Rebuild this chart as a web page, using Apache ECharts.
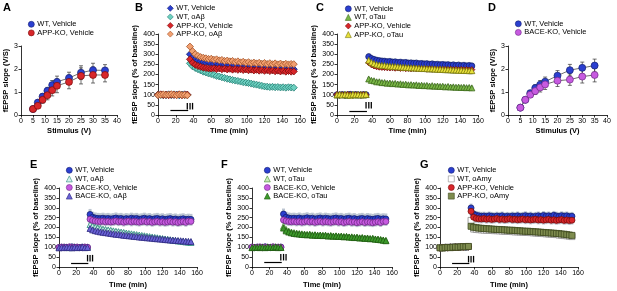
<!DOCTYPE html>
<html><head><meta charset="utf-8">
<script src="https://cdn.jsdelivr.net/npm/echarts@6/dist/echarts.min.js"></script>
<style>html,body{margin:0;padding:0;background:#fff}#c{width:617px;height:291px}</style>
</head><body><div id="c"></div>
<script>
// ---------------- DATA ----------------
// Input/output curves (A, D)
const stimV = [5, 7, 9, 11, 13, 15, 20, 25, 30, 35];
const aWtVeh = [0.26, 0.54, 0.80, 1.05, 1.30, 1.44, 1.61, 1.84, 1.95, 1.94];
const aWtVehErr = [0.04, 0.08, 0.12, 0.15, 0.20, 0.25, 0.25, 0.30, 0.30, 0.25];
const aAppVeh = [0.26, 0.40, 0.66, 0.86, 1.08, 1.27, 1.44, 1.70, 1.74, 1.74];
const aAppVehErr = [0.04, 0.08, 0.15, 0.20, 0.25, 0.30, 0.30, 0.35, 0.35, 0.30];
const dWtVeh = [0.32, 0.66, 0.95, 1.17, 1.32, 1.45, 1.71, 1.95, 2.05, 2.15];
const dWtVehErr = [0.05, 0.08, 0.12, 0.15, 0.18, 0.20, 0.22, 0.25, 0.25, 0.28];
const dBaceVeh = [0.32, 0.66, 0.88, 1.04, 1.20, 1.33, 1.49, 1.54, 1.67, 1.74];
const dBaceVehErr = [0.05, 0.08, 0.12, 0.15, 0.20, 0.22, 0.25, 0.25, 0.28, 0.30];

// LTP time courses (B, C, E, F, G)
const tBase = [0, 3, 6, 9, 12, 15, 18, 21, 24, 27, 30, 33];
const tPost = [36, 39, 42, 45, 48, 51, 54, 57, 60, 63, 66, 69, 72, 75, 78, 81, 84, 87, 90, 93,
               96, 99, 102, 105, 108, 111, 114, 117, 120, 123, 126, 129, 132, 135, 138, 141, 144, 147, 150, 153];

// B
const bWtVehBase = [99, 101, 100, 98, 102, 100, 99, 101, 98, 100, 102, 99];
const bWtVehPost = [300, 285, 275, 270, 265, 262, 258, 260, 255, 252, 256, 250, 252, 248, 250, 246, 249, 244, 247, 243, 245, 241, 244, 240, 242, 238, 240, 236, 239, 235, 237, 233, 236, 231, 234, 229, 232, 227, 229, 226];
const bWtAbBase = [101, 99, 98, 100, 101, 99, 102, 100, 99, 101, 98, 100];
const bWtAbPost = [255, 240, 232, 226, 220, 214, 210, 205, 202, 198, 193, 190, 186, 183, 179, 176, 173, 170, 168, 165, 162, 160, 158, 155, 152, 150, 147, 144, 141, 140, 138, 139, 137, 138, 136, 137, 135, 137, 136, 135];
const bAppVehBase = [100, 102, 99, 101, 98, 100, 101, 99, 102, 98, 100, 101];
const bAppVehPost = [275, 258, 248, 242, 238, 234, 232, 230, 229, 231, 227, 230, 226, 229, 225, 228, 224, 227, 223, 226, 222, 225, 221, 224, 220, 223, 219, 222, 218, 221, 217, 220, 216, 219, 215, 218, 214, 217, 214, 215];
const bAppAbBase = [98, 100, 102, 99, 101, 103, 100, 98, 101, 99, 100, 97];
const bAppAbPost = [338, 315, 300, 292, 286, 283, 280, 277, 278, 273, 275, 270, 272, 267, 269, 265, 267, 262, 265, 260, 263, 258, 261, 256, 259, 255, 258, 253, 257, 252, 256, 251, 255, 250, 254, 249, 253, 250, 252, 251];

// C
const cWtVehBase = [100, 99, 101, 98, 100, 102, 99, 101, 100, 98, 101, 100];
const cWtVehPost = [288, 279, 274, 270, 268, 266, 265, 263, 264, 261, 262, 259, 260, 258, 259, 256, 257, 255, 256, 253, 254, 252, 253, 250, 252, 249, 250, 248, 249, 247, 248, 245, 247, 244, 246, 243, 245, 242, 244, 242];
const cWtTauBase = [99, 101, 100, 102, 98, 100, 101, 99, 100, 102, 99, 101];
const cWtTauPost = [178, 171, 169, 164, 164, 160, 160, 157, 158, 155, 156, 153, 154, 151, 152, 149, 150, 148, 149, 146, 147, 145, 146, 143, 145, 142, 143, 141, 142, 139, 141, 138, 139, 137, 138, 136, 137, 135, 136, 134];
const cAppVehBase = [101, 98, 100, 99, 102, 100, 98, 101, 99, 100, 101, 99];
const cAppVehPost = [258, 248, 242, 238, 236, 235, 234, 233, 232, 233, 231, 232, 230, 231, 229, 230, 228, 230, 228, 229, 227, 228, 226, 228, 226, 227, 225, 227, 225, 226, 224, 226, 224, 225, 223, 225, 223, 224, 222, 224];
const cAppTauBase = [100, 102, 99, 101, 100, 98, 102, 100, 101, 99, 100, 102];
const cAppTauPost = [270, 260, 254, 250, 247, 245, 244, 242, 241, 240, 239, 238, 237, 236, 235, 234, 233, 233, 232, 231, 230, 230, 229, 228, 228, 227, 226, 226, 225, 224, 224, 223, 222, 222, 221, 221, 220, 220, 219, 219];

// E
const eWtVehBase = [98, 100, 101, 99, 100, 102, 99, 100, 98, 101, 100, 99];
const eWtVehPost = [266, 252, 248, 246, 245, 247, 244, 246, 243, 245, 248, 244, 246, 242, 245, 243, 247, 244, 246, 242, 244, 247, 243, 245, 241, 244, 246, 242, 244, 240, 243, 245, 241, 243, 239, 242, 244, 240, 242, 241];
const eWtAbBase = [100, 99, 101, 100, 98, 100, 102, 99, 101, 100, 99, 101];
const eWtAbPost = [215, 207, 202, 198, 195, 192, 190, 188, 186, 183, 181, 179, 177, 175, 172, 170, 168, 166, 164, 162, 160, 158, 156, 154, 152, 150, 148, 146, 144, 142, 140, 138, 136, 134, 132, 131, 129, 127, 126, 124];
const eBaceVehBase = [99, 101, 98, 100, 102, 99, 100, 101, 99, 98, 101, 100];
const eBaceVehPost = [242, 236, 233, 231, 230, 232, 229, 231, 228, 230, 233, 229, 231, 227, 230, 232, 228, 231, 229, 227, 230, 232, 228, 230, 226, 229, 231, 227, 229, 226, 228, 231, 227, 229, 225, 228, 230, 226, 232, 231];
const eBaceAbBase = [97, 99, 98, 100, 99, 97, 100, 98, 99, 101, 98, 99];
const eBaceAbPost = [195, 188, 184, 181, 178, 176, 174, 172, 170, 168, 166, 165, 163, 161, 160, 158, 157, 155, 154, 152, 151, 150, 148, 147, 146, 144, 143, 142, 141, 139, 138, 137, 136, 135, 134, 133, 132, 131, 130, 129];

// F
const fWtVehBase = [100, 98, 101, 99, 100, 102, 100, 98, 101, 100, 99, 101];
const fWtVehPost = [268, 252, 248, 246, 247, 245, 248, 244, 246, 249, 245, 247, 243, 246, 248, 244, 247, 245, 243, 246, 248, 244, 246, 242, 245, 247, 243, 245, 241, 244, 246, 242, 245, 243, 241, 244, 246, 242, 244, 243];
const fWtTauBase = [99, 101, 100, 98, 101, 100, 102, 99, 100, 101, 98, 100];
const fWtTauPost = [206, 190, 182, 177, 174, 172, 170, 168, 167, 165, 166, 163, 164, 161, 162, 160, 161, 158, 159, 157, 158, 155, 156, 154, 155, 152, 153, 150, 151, 148, 149, 146, 147, 144, 145, 142, 141, 139, 137, 135];
const fBaceVehBase = [101, 99, 100, 102, 98, 101, 99, 100, 102, 99, 101, 100];
const fBaceVehPost = [238, 233, 230, 229, 231, 228, 230, 227, 229, 232, 228, 230, 226, 229, 231, 227, 230, 228, 226, 229, 231, 227, 229, 225, 228, 230, 226, 228, 224, 227, 229, 225, 228, 226, 224, 227, 229, 225, 231, 230];
const fBaceTauBase = [98, 100, 99, 101, 100, 98, 101, 100, 99, 102, 100, 99];
const fBaceTauPost = [197, 183, 177, 173, 170, 168, 167, 165, 164, 163, 164, 161, 162, 160, 161, 159, 160, 157, 158, 156, 157, 155, 156, 153, 154, 152, 151, 149, 150, 147, 148, 145, 146, 143, 144, 141, 140, 138, 136, 133];

// G
const gWtVehBase = [97, 99, 100, 98, 101, 100, 102, 99, 101, 103, 100, 102];
const gWtVehPost = [299, 268, 262, 259, 257, 258, 256, 259, 257, 255, 258, 256, 259, 254, 257, 255, 258, 256, 259, 255, 257, 260, 256, 258, 254, 257, 259, 255, 261, 257, 259, 256, 262, 258, 256, 260, 257, 259, 255, 257];
const gWtAmyBase = [98, 97, 99, 100, 99, 101, 100, 102, 101, 103, 102, 104];
const gWtAmyPost = [236, 192, 190, 189, 188, 187, 186, 186, 185, 184, 184, 183, 182, 181, 181, 180, 179, 178, 178, 177, 176, 175, 175, 174, 173, 172, 171, 170, 169, 168, 167, 166, 165, 164, 162, 161, 159, 158, 156, 154];
const gAppVehBase = [96, 98, 99, 97, 100, 99, 101, 100, 102, 101, 103, 102];
const gAppVehPost = [282, 252, 246, 244, 243, 245, 242, 244, 241, 243, 245, 241, 243, 240, 242, 244, 240, 242, 239, 241, 243, 239, 241, 238, 240, 242, 238, 240, 237, 239, 241, 237, 239, 236, 238, 240, 236, 238, 235, 237];
const gAppAmyBase = [97, 96, 98, 99, 98, 100, 101, 100, 102, 103, 102, 104];
const gAppAmyPost = [206, 201, 199, 197, 196, 195, 194, 193, 192, 191, 190, 190, 189, 188, 187, 186, 186, 185, 184, 183, 182, 181, 181, 180, 179, 178, 177, 176, 175, 174, 173, 172, 171, 170, 169, 167, 166, 164, 162, 160];

// SEM (for light error halos), % of baseline
const semC = [18, 10, 14, 18];
const semE = [28, 10, 22, 10];
const semF = [28, 10, 22, 10];
const semG = [22, 12, 22, 12];

// protocol annotations (min)
const drugOn = 14, drugOff = 34, tetanusAt = 36;

// ---------------- CHART ----------------
const FONT = '"Liberation Sans", Arial, sans-serif';
const S = {
  blue:   {c: '#2b3fd0', b: '#141f70'},
  red:    {c: '#d8262a', b: '#7a0c0c'},
  orange: {c: '#f2a070', b: '#a4542a'},
  teal:   {c: '#6cd0c0', b: '#2a7f75'},
  green:  {c: '#7ab648', b: '#3d6b1a'},
  yellow: {c: '#e8e03a', b: '#77770e'},
  purple: {c: '#c75ae0', b: '#6e2a86'},
  navyTri:{c: '#6a62d6', b: '#2e2a80'},
  tealOut:{c: '#d4f2ec', b: '#2a8a7a'},
  lgreen: {c: '#c8ecb8', b: '#3f8a2a'},
  dgreen: {c: '#3c9a2a', b: '#1f5a12'},
  white:  {c: '#ffffff', b: '#8a8a8a'},
  olive:  {c: '#7e8c4e', b: '#3f4a20'}
};

const grids = [
  {left: 21, top: 46, width: 96, height: 69},   // A
  {left: 158, top: 34, width: 142, height: 81}, // B
  {left: 337, top: 34, width: 141, height: 81}, // C
  {left: 508, top: 46, width: 99, height: 69},  // D
  {left: 59, top: 188, width: 138, height: 79}, // E
  {left: 252, top: 188, width: 140, height: 79},// F
  {left: 440, top: 188, width: 138, height: 79} // G
];

const axLine = {show: true, onZero: false, lineStyle: {color: '#000', width: 0.8}};
const axTick = {show: true, length: 2.5, lineStyle: {color: '#000', width: 0.8}};
const axLabel = {fontFamily: FONT, fontSize: 7, color: '#000', margin: 3, hideOverlap: false, showMinLabel: true, showMaxLabel: true};
const nameStyle = {fontFamily: FONT, fontSize: 7.5, fontWeight: 'bold', color: '#000'};

const xAxis = [], yAxis = [];
grids.forEach((g, i) => {
  const io = (i === 0 || i === 3);
  const bottomRow = i >= 4;
  xAxis.push({type: 'value', gridIndex: i, min: 0, max: io ? 40 : 160, interval: io ? 5 : 20,
    name: io ? 'Stimulus (V)' : 'Time (min)', nameLocation: 'middle', nameGap: bottomRow ? 14 : 12,
    nameTextStyle: nameStyle, axisLine: axLine, axisTick: axTick, axisLabel: axLabel, splitLine: {show: false}});
  yAxis.push({type: 'value', gridIndex: i, min: 0, max: io ? 3 : 400, interval: io ? 1 : 50,
    name: io ? 'fEPSP slope (V/S)' : 'fEPSP slope (% of baseline)', nameLocation: 'middle', nameGap: io ? 11 : 19,
    nameRotate: 90, nameTextStyle: nameStyle, axisLine: axLine, axisTick: axTick, axisLabel: axLabel, splitLine: {show: false}});
});

const series = [];
function ioLine(name, gi, ys, st) {
  series.push({type: 'line', name, xAxisIndex: gi, yAxisIndex: gi, data: stimV.map((x, k) => [x, ys[k]]),
    symbol: 'circle', symbolSize: 7, showSymbol: true, animation: false, z: 4,
    lineStyle: {color: '#4a4a4a', width: 0.8}, itemStyle: {color: st.c, borderColor: st.b, borderWidth: 0.7}});
}
function ioErr(gi, ys, es) {
  series.push({type: 'custom', xAxisIndex: gi, yAxisIndex: gi, animation: false, silent: true, z: 2,
    data: stimV.map((x, k) => [x, ys[k], es[k]]),
    renderItem: (p, api) => {
      const x = api.value(0), y = api.value(1), e = api.value(2);
      const a = api.coord([x, y - e]), b = api.coord([x, y + e]);
      const st = {stroke: '#333', lineWidth: 0.7};
      return {type: 'group', children: [
        {type: 'line', shape: {x1: a[0], y1: a[1], x2: b[0], y2: b[1]}, style: st},
        {type: 'line', shape: {x1: a[0] - 2, y1: a[1], x2: a[0] + 2, y2: a[1]}, style: st},
        {type: 'line', shape: {x1: b[0] - 2, y1: b[1], x2: b[0] + 2, y2: b[1]}, style: st}
      ]};
    }});
}
function ltp(name, gi, base, post, sym, st, size) {
  const xs = tBase.concat(tPost), ys = base.concat(post);
  series.push({type: 'scatter', name, xAxisIndex: gi, yAxisIndex: gi, data: xs.map((x, k) => [x, ys[k]]),
    symbol: sym, symbolSize: size || 6, animation: false, z: 4,
    itemStyle: {color: st.c, borderColor: st.b, borderWidth: 0.8, opacity: 1}});
}
function halo(gi, post, sem) {
  series.push({type: 'custom', xAxisIndex: gi, yAxisIndex: gi, animation: false, silent: true, z: 1,
    data: tPost.map((x, k) => [x, post[k], sem]),
    renderItem: (p, api) => {
      const x = api.value(0), y = api.value(1), e = api.value(2);
      const a = api.coord([x, y - e]), b = api.coord([x, y + e]);
      return {type: 'line', shape: {x1: a[0], y1: a[1], x2: b[0], y2: b[1]}, style: {stroke: '#bcc5d1', lineWidth: 3}};
    }});
}
function protocol(gi, level, markY) {
  series.push({type: 'line', xAxisIndex: gi, yAxisIndex: gi, data: [], silent: true, animation: false,
    markLine: {silent: true, symbol: 'none', animation: false, label: {show: false},
      lineStyle: {color: '#000', width: 1.2, type: 'solid'},
      data: [[{coord: [drugOn, level]}, {coord: [drugOff, level]}]]},
    markPoint: {silent: true, animation: false, symbol: 'rect', symbolSize: 0,
      label: {show: true, formatter: 'ǀǀǀ', fontFamily: 'DejaVu Sans', fontWeight: 'bold', fontSize: 7, color: '#000', position: 'inside'},
      data: [{coord: [tetanusAt, markY]}]}});
}

// A
ioErr(0, aWtVeh, aWtVehErr); ioErr(0, aAppVeh, aAppVehErr);
ioLine('WT, Vehicle', 0, aWtVeh, S.blue); ioLine('APP-KO, Vehicle', 0, aAppVeh, S.red);
// D
ioErr(3, dWtVeh, dWtVehErr); ioErr(3, dBaceVeh, dBaceVehErr);
ioLine('WT, Vehicle', 3, dWtVeh, S.blue); ioLine('BACE-KO, Vehicle', 3, dBaceVeh, S.purple);
// B
ltp('WT, Vehicle', 1, bWtVehBase, bWtVehPost, 'diamond', S.blue, 7);
ltp('WT, oAβ', 1, bWtAbBase, bWtAbPost, 'diamond', S.teal, 7);
ltp('APP-KO, Vehicle', 1, bAppVehBase, bAppVehPost, 'diamond', S.red, 7);
ltp('APP-KO, oAβ', 1, bAppAbBase, bAppAbPost, 'diamond', S.orange, 7);
protocol(1, 22, 45);
// C
halo(2, cWtVehPost, semC[0]); halo(2, cAppTauPost, semC[3]); halo(2, cWtTauPost, semC[1]);
ltp('WT, Vehicle', 2, cWtVehBase, cWtVehPost, 'circle', S.blue, 6);
ltp('WT, oTau', 2, cWtTauBase, cWtTauPost, 'triangle', S.green, 6);
ltp('APP-KO, Vehicle', 2, cAppVehBase, cAppVehPost, 'diamond', S.red, 6);
ltp('APP-KO, oTau', 2, cAppTauBase, cAppTauPost, 'triangle', S.yellow, 6);
protocol(2, 20, 48);
// E
halo(4, eWtVehPost, semE[0]); halo(4, eBaceVehPost, semE[2]); halo(4, eWtAbPost, semE[1]);
ltp('WT, Vehicle', 4, eWtVehBase, eWtVehPost, 'circle', S.blue, 6);
ltp('WT, oAβ', 4, eWtAbBase, eWtAbPost, 'triangle', S.tealOut, 6);
ltp('BACE-KO, Vehicle', 4, eBaceVehBase, eBaceVehPost, 'circle', S.purple, 6);
ltp('BACE-KO, oAβ', 4, eBaceAbBase, eBaceAbPost, 'triangle', S.navyTri, 6);
protocol(4, 18, 45);
// F
halo(5, fWtVehPost, semF[0]); halo(5, fBaceVehPost, semF[2]); halo(5, fWtTauPost, semF[1]);
ltp('WT, Vehicle', 5, fWtVehBase, fWtVehPost, 'circle', S.blue, 6);
ltp('WT, oTau', 5, fWtTauBase, fWtTauPost, 'triangle', S.lgreen, 6);
ltp('BACE-KO, Vehicle', 5, fBaceVehBase, fBaceVehPost, 'circle', S.purple, 6);
ltp('BACE-KO, oTau', 5, fBaceTauBase, fBaceTauPost, 'triangle', S.dgreen, 6);
protocol(5, 22, 50);
// G
halo(6, gWtVehPost, semG[0]); halo(6, gAppVehPost, semG[2]); halo(6, gWtAmyPost, semG[1]); halo(6, gAppAmyPost, semG[3]);
ltp('WT, Vehicle', 6, gWtVehBase, gWtVehPost, 'circle', S.blue, 6);
ltp('WT, oAmy', 6, gWtAmyBase, gWtAmyPost, 'rect', S.white, 6);
ltp('APP-KO, Vehicle', 6, gAppVehBase, gAppVehPost, 'circle', S.red, 6);
ltp('APP-KO, oAmy', 6, gAppAmyBase, gAppAmyPost, 'rect', S.olive, 6);
protocol(6, 18, 40);

function li(name, icon, st) { return {name, icon, itemStyle: {color: st.c, borderColor: st.b, borderWidth: 0.6}}; }
function leg(left, top, items) {
  return {orient: 'vertical', left, top, padding: 0, itemGap: 0, itemWidth: 6, itemHeight: 6,
    selectedMode: false, textStyle: {fontFamily: FONT, fontSize: 7.5, color: '#000', lineHeight: 8.6, padding: [0, 0, 0, -2]},
    data: items};
}
const legend = [
  leg(28, 20, [li('WT, Vehicle', 'circle', S.blue), li('APP-KO, Vehicle', 'circle', S.red)]),
  leg(167, 4, [li('WT, Vehicle', 'diamond', S.blue), li('WT, oAβ', 'diamond', S.teal), li('APP-KO, Vehicle', 'diamond', S.red), li('APP-KO, oAβ', 'diamond', S.orange)]),
  leg(345, 4.5, [li('WT, Vehicle', 'circle', S.blue), li('WT, oTau', 'triangle', S.green), li('APP-KO, Vehicle', 'diamond', S.red), li('APP-KO, oTau', 'triangle', S.yellow)]),
  leg(515, 19.5, [li('WT, Vehicle', 'circle', S.blue), li('BACE-KO, Vehicle', 'circle', S.purple)]),
  leg(66, 166, [li('WT, Vehicle', 'circle', S.blue), li('WT, oAβ', 'triangle', S.tealOut), li('BACE-KO, Vehicle', 'circle', S.purple), li('BACE-KO, oAβ', 'triangle', S.navyTri)]),
  leg(264, 166, [li('WT, Vehicle', 'circle', S.blue), li('WT, oTau', 'triangle', S.lgreen), li('BACE-KO, Vehicle', 'circle', S.purple), li('BACE-KO, oTau', 'triangle', S.dgreen)]),
  leg(448, 166, [li('WT, Vehicle', 'circle', S.blue), li('WT, oAmy', 'rect', S.white), li('APP-KO, Vehicle', 'circle', S.red), li('APP-KO, oAmy', 'rect', S.olive)])
];

const letters = [['A', 3, 2], ['B', 135, 2], ['C', 316, 2], ['D', 488, 2], ['E', 30, 159], ['F', 221, 159], ['G', 420, 159]];
const title = letters.map(l => ({text: l[0], left: l[1], top: l[2], padding: 0,
  textStyle: {fontFamily: FONT, fontSize: 11, fontWeight: 'bold', color: '#000'}}));

const chart = echarts.init(document.getElementById('c'), null, {renderer: 'canvas'});
chart.setOption({backgroundColor: '#fff', animation: false, title, legend, grid: grids, xAxis, yAxis, series});
</script></body></html>
